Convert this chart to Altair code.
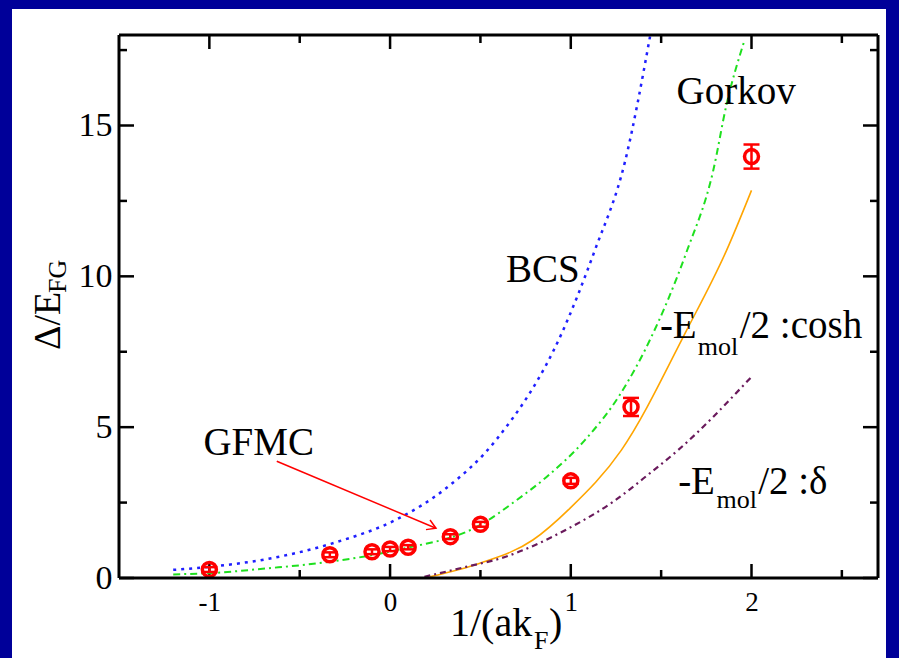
import altair as alt
import pandas as pd

# ---------------- data ----------------
gfmc_x = [-1.0, -1 / 3, -0.1, 0.0, 0.1, 1 / 3, 0.5, 1.0, 4 / 3, 2.0]
gfmc_y = [0.28, 0.77, 0.87, 0.96, 1.02, 1.37, 1.78, 3.22, 5.67, 13.97]
gfmc_err = [0.08, 0.08, 0.08, 0.07, 0.07, 0.08, 0.08, 0.1, 0.3, 0.4]

bcs_x = [-1.2, -1.0, -0.68, -0.33, 0.055, 0.3, 0.59, 0.949, 1.133, 1.3, 1.44]
bcs_y = [0.27, 0.37, 0.63, 1.13, 2.0, 2.93, 4.6, 8.1, 10.86, 13.8, 18.0]

gorkov_x = [-1.2, -1.0, -0.68, -0.33, 0.055, 0.497, 0.70, 0.866, 1.078, 1.27, 1.437, 1.64, 1.788, 1.862, 1.96]
gorkov_y = [0.12, 0.16, 0.32, 0.54, 0.95, 1.75, 2.58, 3.35, 4.57, 6.06, 7.88, 10.8, 13.5, 15.7, 17.8]

cosh_x = [0.22, 0.497, 0.79, 0.995, 1.28, 1.64, 1.862, 2.0]
cosh_y = [0.04, 0.49, 1.26, 2.31, 4.24, 8.2, 10.86, 12.85]

delta_x = [0.19, 0.42, 0.61, 0.977, 1.235, 1.437, 1.594, 2.0]
delta_y = [0.04, 0.37, 0.65, 1.61, 2.53, 3.47, 4.24, 6.67]

x_major = [-1, 0, 1, 2]
x_minor = [-0.5, 0.5, 1.5, 2.5]
y_major = [0, 5, 10, 15]
y_minor = [2.5, 7.5, 12.5, 17.5]

label_text = ["Gorkov", "BCS", "GFMC", "-E", "/2 :cosh", "-E", "/2 :\u03b4"]
label_x = [1.585, 0.641, -1.033, 1.493, 1.935, 1.594, 2.037]
label_y = [15.7, 9.81, 4.07, 7.94, 7.94, 2.80, 2.80]

sub_text = ["mol", "mol"]
sub_x = [1.703, 1.806]
sub_y = [7.38, 2.32]

arrow_x = [-0.627, 0.254]
arrow_y = [3.87, 1.65]

# ---------------- layout ----------------
W, H = 759, 543
FONT = "Liberation Serif"
xs = alt.Scale(domain=[-1.5, 2.7], nice=False, zero=False)
ys = alt.Scale(domain=[0, 18], nice=False, zero=False)

xaxis = alt.Axis(values=x_major, title="", domain=False, ticks=False, grid=False,
                 labelFontSize=27, labelPadding=11, labelFont=FONT, labelColor="black",
                 labelExpr="toString(datum.value)", zindex=1, labelFlush=False)
yaxis = alt.Axis(values=y_major, title="", domain=False, ticks=False, grid=False,
                 labelFontSize=34, labelPadding=7, labelFont=FONT, labelColor="black",
                 zindex=1, labelFlush=False)

one = pd.DataFrame({"k": [0]})

panel = alt.Chart(one).mark_rect(color="white").encode(
    x=alt.value(-107), x2=alt.value(767), y=alt.value(-26), y2=alt.value(640))


def xpos(field):
    return alt.X(field, type="quantitative", scale=xs, axis=xaxis)


def ypos(field):
    return alt.Y(field, type="quantitative", scale=ys, axis=yaxis)


xmaj = pd.DataFrame({"v": x_major})
xmin = pd.DataFrame({"v": x_minor})
ymaj = pd.DataFrame({"v": y_major})
ymin = pd.DataFrame({"v": y_minor})

tick_layers = []
for df, ln in [(xmaj, 14), (xmin, 8)]:
    tick_layers.append(alt.Chart(df).mark_rule(color="black", strokeWidth=2.5).encode(
        x=xpos("v"), y=alt.value(H), y2=alt.value(H - ln)))
    tick_layers.append(alt.Chart(df).mark_rule(color="black", strokeWidth=2.5).encode(
        x=xpos("v"), y=alt.value(0), y2=alt.value(ln)))
for df, ln in [(ymaj, 15), (ymin, 8)]:
    tick_layers.append(alt.Chart(df).mark_rule(color="black", strokeWidth=2.5).encode(
        y=ypos("v"), x=alt.value(0), x2=alt.value(ln)))
    tick_layers.append(alt.Chart(df).mark_rule(color="black", strokeWidth=2.5).encode(
        y=ypos("v"), x=alt.value(W), x2=alt.value(W - ln)))

frame = [
    alt.Chart(one).mark_rule(color="black", strokeWidth=3).encode(x=alt.value(0), x2=alt.value(W), y=alt.value(0)),
    alt.Chart(one).mark_rule(color="black", strokeWidth=3).encode(x=alt.value(0), x2=alt.value(W), y=alt.value(H)),
    alt.Chart(one).mark_rule(color="black", strokeWidth=3).encode(x=alt.value(0), y=alt.value(0), y2=alt.value(H)),
    alt.Chart(one).mark_rule(color="black", strokeWidth=3).encode(x=alt.value(W), y=alt.value(0), y2=alt.value(H)),
]


def curve(xv, yv, color, width, dash=None):
    kw = dict(color=color, strokeWidth=width, clip=True, interpolate="monotone")
    if dash:
        kw["strokeDash"] = dash
    return alt.Chart(pd.DataFrame({"x": xv, "y": yv})).mark_line(**kw).encode(
        x=xpos("x"), y=ypos("y"))


bcs = curve(bcs_x, bcs_y, "#1f1fff", 2.5, [3, 5])
gorkov = curve(gorkov_x, gorkov_y, "#1ee01e", 2, [7, 4, 2, 4])
cosh = curve(cosh_x, cosh_y, "#ffa500", 1.6)
delta = curve(delta_x, delta_y, "#6a1a5c", 2.2, [6, 4, 2, 4])

gdf = pd.DataFrame({"x": gfmc_x, "y": gfmc_y, "e": gfmc_err})
gdf["lo"] = gdf["y"] - gdf["e"]
gdf["hi"] = gdf["y"] + gdf["e"]

ebar = alt.Chart(gdf).mark_rule(color="red", strokeWidth=2.5).encode(
    x=xpos("x"), y=ypos("lo"), y2="hi")
cap_lo = alt.Chart(gdf).mark_tick(color="red", size=16, thickness=2.5, orient="horizontal", opacity=1).encode(
    x=xpos("x"), y=ypos("lo"))
cap_hi = alt.Chart(gdf).mark_tick(color="red", size=16, thickness=2.5, orient="horizontal", opacity=1).encode(
    x=xpos("x"), y=ypos("hi"))
pts = alt.Chart(gdf).mark_point(shape="circle", filled=False, color="red", size=196,
                                strokeWidth=3.5, opacity=1).encode(x=xpos("x"), y=ypos("y"))

arrow_line = alt.Chart(pd.DataFrame({"x": arrow_x, "y": arrow_y})).mark_line(
    color="red", strokeWidth=1.5).encode(x=xpos("x"), y=ypos("y"))
arrow_head = alt.Chart(pd.DataFrame({"x": arrow_x[1:], "y": arrow_y[1:]})).mark_point(
    shape="M-1,-0.6L0,0L-1,0.6", filled=False, color="red", size=300, strokeWidth=1.5,
    angle=23, opacity=1).encode(x=xpos("x"), y=ypos("y"))

labels = alt.Chart(pd.DataFrame({"t": label_text, "x": label_x, "y": label_y})).mark_text(
    font=FONT, fontSize=39, align="left", baseline="alphabetic", color="black").encode(
    x=xpos("x"), y=ypos("y"), text="t:N")
subs = alt.Chart(pd.DataFrame({"t": sub_text, "x": sub_x, "y": sub_y})).mark_text(
    font=FONT, fontSize=26, align="left", baseline="alphabetic", color="black").encode(
    x=xpos("x"), y=ypos("y"), text="t:N")


def ptext(txt, px, py, fs, angle=0):
    kw = dict(font=FONT, fontSize=fs, align="left", baseline="alphabetic", color="black")
    if angle:
        kw["angle"] = angle
    return alt.Chart(one).mark_text(**kw).encode(
        x=alt.value(px), y=alt.value(py), text=alt.value(txt))


titles = [
    ptext("\u0394/E", -59, 315, 38, 270),
    ptext("FG", -53, 258, 26, 270),
    ptext("1/(ak", 331, 601, 40),
    ptext("F", 415, 614, 26),
    ptext(")", 430, 601, 40),
]

chart = alt.layer(
    panel, *tick_layers, bcs, gorkov, cosh, delta, arrow_line, arrow_head,
    ebar, cap_lo, cap_hi, pts, labels, subs, *frame, *titles
).properties(
    width=W, height=H,
    autosize=alt.AutoSizeParams(type="none"),
    padding={"left": 119, "top": 35, "right": 21, "bottom": 80},
    background="#000099",
).configure_view(stroke="transparent")

chart.save("out.html", embed_options={"renderer": "svg", "actions": False})
